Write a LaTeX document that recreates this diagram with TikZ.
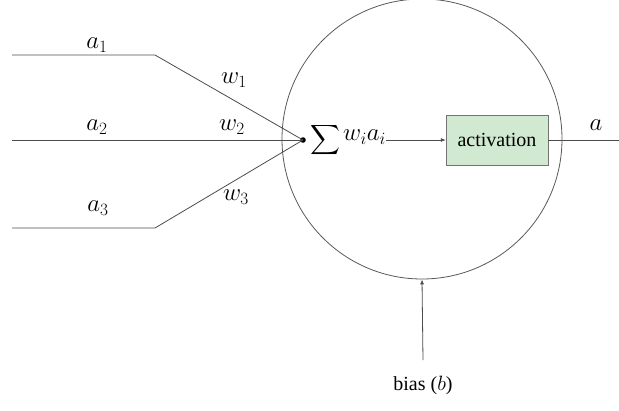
\documentclass[tikz,border=0pt]{standalone}
\usepackage{amsmath}
\usepackage{fontspec}
\setmainfont{Liberation Serif}
\usetikzlibrary{arrows.meta}
\begin{document}
\begin{tikzpicture}[x=1pt,y=-1pt,
  wire/.style={draw=black!70, line width=0.8pt},
  lbl/.style={font=\fontsize{24}{28}\selectfont, inner sep=0pt},
  tip/.style={-{Latex[length=5pt,width=4pt]}}]
\useasboundingbox (0,0) rectangle (619,410);
% neuron body
\node[draw=black!65, line width=0.8pt, circle, minimum size=280pt, inner sep=0pt] (body) at (422,139) {};
% junction
\coordinate (j) at (303,140);
\fill (j) circle (2.8pt);
\coordinate (s1) at (12,55);  \coordinate (k1) at (155,55);
\coordinate (s2) at (12,140);
\coordinate (s3) at (12,228); \coordinate (k3) at (155,228);
\draw[wire] (s1) -- (k1) -- (j);
\draw[wire] (s2) -- (j);
\draw[wire] (s3) -- (k3) -- (j);
% input labels
\node[lbl] (a1) at (97,45) {$a_1$};
\node[lbl] (a2) at (97,127) {$a_2$};
\node[lbl] (a3) at (98,208) {$a_3$};
\node[lbl] (w1) at (234,80) {$w_1$};
\node[lbl] (w2) at (232,127) {$w_2$};
\node[lbl] (w3) at (236,197) {$w_3$};
% sum
\node[inner sep=0pt, anchor=west, font=\fontsize{22}{26}\selectfont] (sig) at (310,140) {$\displaystyle\sum$};
\node[lbl, anchor=west] (sum) at (343,137) {$w_i a_i$};
% activation
\node[draw=black!55, fill=green!50!black!18!white, minimum width=102pt, minimum height=50pt, inner sep=0pt,
      font=\fontsize{20}{24}\selectfont] (act) at (497,140) {activation};
\draw[wire, tip] (sum.east |- act.west) -- (act.west);
\coordinate (out) at (619,140);
\draw[wire] (act.east) -- (out);
\node[lbl] (alab) at (596,125) {$a$};
% bias
\node[font=\fontsize{20}{24}\selectfont, inner sep=0pt] (bias) at (423,385) {bias ($b$)};
\coordinate (bstart) at (423,360);
\draw[wire, tip] (bstart) -- (body.south);
\end{tikzpicture}
\end{document}
